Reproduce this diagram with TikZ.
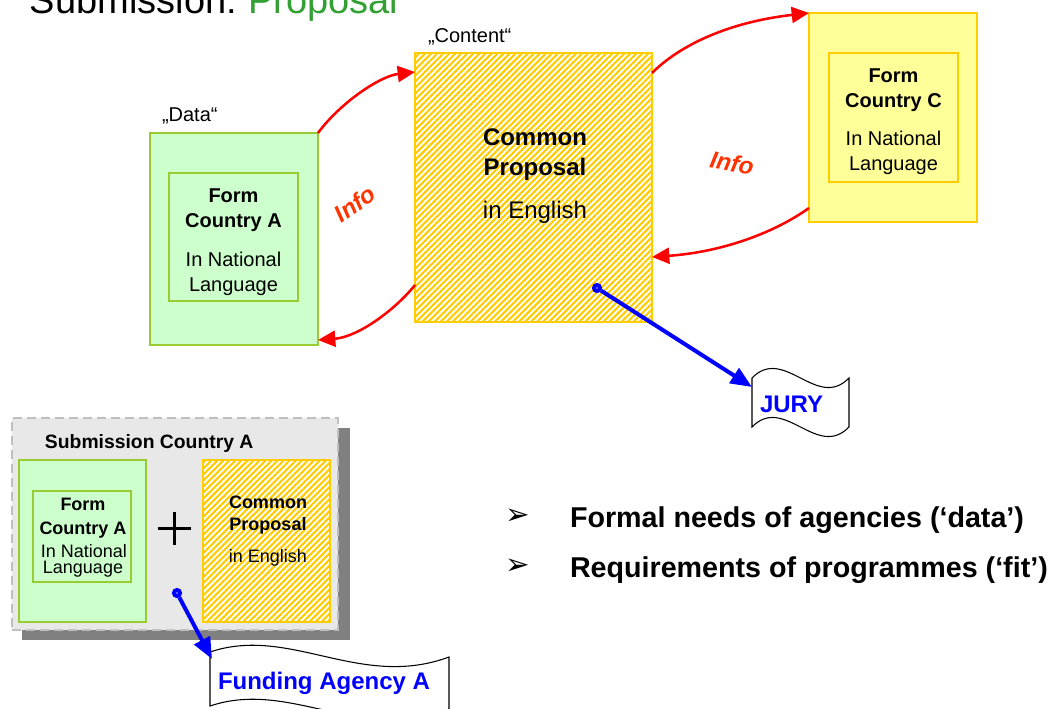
\documentclass[tikz,border=0pt]{standalone}
\usepackage{fontspec}
\setmainfont{Liberation Sans}
\newfontfamily\symfont{DejaVu Sans}
\usetikzlibrary{arrows.meta,patterns.meta}

\definecolor{greenfill}{HTML}{CCFFCC}
\definecolor{greenline}{HTML}{99CC33}
\definecolor{goldline}{HTML}{FFCC00}
\definecolor{paleyellow}{HTML}{FFFF99}
\definecolor{infocol}{HTML}{FF3300}
\definecolor{titlegreen}{HTML}{33A033}
\definecolor{panelgray}{HTML}{E8E8E8}
\definecolor{dashgray}{HTML}{BFBFBF}
\definecolor{shadowgray}{HTML}{808080}
\definecolor{agencyblue}{HTML}{0000FF}

\newcommand\fsz[1]{\fontsize{#1}{#1}\selectfont}

\tikzset{
  txt/.style={inner sep=0pt, outer sep=0pt, anchor=base},
  headM/.style={txt, font=\fsz{15}\bfseries},
  bodyM/.style={txt, font=\fsz{15}},
  headL/.style={txt, font=\fsz{18}\bfseries},
  bodyL/.style={txt, font=\fsz{18}},
  headS/.style={txt, font=\fsz{13.5}\bfseries},
  bodyS/.style={txt, font=\fsz{13.5}},
  quote/.style={txt, anchor=base west, font=\fsz{15}},
  info/.style={inner sep=0pt, text=infocol, font=\fsz{18}\bfseries\itshape},
  box/.style={rectangle, inner sep=0pt, outer sep=0pt, anchor=north west},
  greenbox/.style={box, draw=greenline, fill=greenfill, line width=1.1pt},
  yellowbox/.style={box, draw=goldline, fill=paleyellow, line width=0.9pt},
  hatchbox/.style={box, draw=goldline, line width=1.9pt, preaction={fill=white},
    pattern={Lines[angle=45,distance=3.2pt,line width=1.6pt]}, pattern color=goldline},
  infoarrow/.style={draw=red, line width=1.9pt, -{Triangle[length=13pt,width=12pt]}},
  sendarrow/.style={draw=agencyblue, line width=3pt, -{Triangle[length=16pt,width=13pt]}},
  dot/.style={circle, draw=agencyblue, fill=white, line width=3pt, minimum size=4.5pt, inner sep=0pt},
  flag/.style={draw=black, fill=white, line width=0.8pt},
  flagtext/.style={txt, anchor=base west, text=agencyblue, font=\fsz{18}\bfseries},
  bullet/.style={inner sep=0pt, outer sep=0pt, anchor=center, font=\fsz{22}\symfont},
  point/.style={txt, anchor=base west, font=\fsz{21.5}\bfseries},
}

\begin{document}
\begin{tikzpicture}[x=0.75pt, y=-0.75pt]
\useasboundingbox (0,0) rectangle (1051,708);
\clip (0,0) rectangle (1051,708);

% heading
\node[txt, anchor=base west, font=\fsz{28.5}] (ttl) at (30,13) {Submission:};
\node[txt, anchor=base west, font=\fsz{28.5}, text=titlegreen] (ttlp) at (248,13) {Proposal};

% national form A
\node[quote] (qdata) at (162,121) {„Data“};
\node[greenbox, minimum width=126pt, minimum height=159pt] (data) at (150,133) {};
\node[greenbox, minimum width=96.75pt, minimum height=96pt] (dataIn) at (169,173) {};
\node[headM] (dA1) at (233.5,202) {Form};
\node[headM] (dA2) at (233.5,227) {Country A};
\node[bodyM] (dA3) at (233.5,266) {In National};
\node[bodyM] (dA4) at (233.5,291) {Language};

% common proposal
\node[quote] (qcont) at (428,42) {„Content“};
\node[hatchbox, minimum width=177.75pt, minimum height=201.75pt] (content) at (415,53) {};
\node[headL] (cp1) at (535,145) {Common};
\node[headL] (cp2) at (535,175) {Proposal};
\node[bodyL] (cp3) at (535,218) {in English};

% national form C
\node[yellowbox, minimum width=126pt, minimum height=156.75pt] (formC) at (809,13) {};
\node[yellowbox, minimum width=96.75pt, minimum height=96.75pt] (formCIn) at (829,53) {};
\node[headM] (fc1) at (893.5,82) {Form};
\node[headM] (fc2) at (893.5,107) {Country C};
\node[bodyM] (fc3) at (893.5,145) {In National};
\node[bodyM] (fc4) at (893.5,170) {Language};

% information exchange
\draw[infoarrow] (data.north east) .. controls +(22,-30) and +(-35,4) .. ([yshift=-14.25pt]content.north west);
\draw[infoarrow] ([yshift=27.75pt]content.south west) .. controls +(-20,25) and +(40,-3) .. ([yshift=3.75pt]data.south east);
\draw[infoarrow] ([yshift=-15pt]content.north east) .. controls +(28,-28) and +(-80,9) .. (formC.north west);
\draw[infoarrow] ([yshift=10.5pt]formC.south west) .. controls +(-35,25) and +(70,-5) .. ([yshift=48.75pt]content.south east);
\node[info, rotate=35] (infoL) at (355,204) {Info};
\node[info, rotate=-11] (infoR) at (732,163) {Info};

% jury
\draw[flag] (752,378) .. controls (784,345) and (817,411) .. (849,378)
  -- (849,427) .. controls (817,460) and (784,394) .. (752,427) -- cycle;
\node[flagtext] (jury) at (760,412) {JURY};
\coordinate (juryIn) at (752,387);
\node[dot] (jdot) at (597,288) {};
\draw[sendarrow] (jdot) -- (juryIn);

% national submission
\node[box, fill=shadowgray, minimum width=246pt, minimum height=159pt] (subShadow) at (22,428) {};
\node[box, fill=panelgray, draw=dashgray, line width=2pt, dash pattern=on 7pt off 3.5pt,
      minimum width=244.5pt, minimum height=159pt] (sub) at (12,418) {};
\node[txt, anchor=base west, font=\fsz{14.5}\bfseries] (subTitle) at (45,448) {Submission Country A};
\node[greenbox, minimum width=95.25pt, minimum height=121.5pt] (subForm) at (19,460) {};
\node[greenbox, minimum width=73.5pt, minimum height=68.25pt] (subFormIn) at (33,491) {};
\node[headS] (sf1) at (83,510) {Form};
\node[headS] (sf2) at (83,534) {Country A};
\node[bodyS] (sf3) at (84,557) {In National};
\node[bodyS] (sf4) at (83,573) {Language};
\draw[line width=2pt] (158,528.5) -- (191,528.5) (174.5,512) -- (174.5,545);
\node[hatchbox, line width=2pt, minimum width=95.25pt, minimum height=121.5pt] (subProp) at (203,460) {};
\node[headS] (sp1) at (268,508) {Common};
\node[headS] (sp2) at (268,530) {Proposal};
\node[bodyS] (sp3) at (268,562) {in English};

% funding agency
\draw[flag] (210,652) .. controls (290,625) and (360,690) .. (449,657)
  -- (449,709) .. controls (360,744) and (290,679) .. (210,706) -- cycle;
\node[flagtext] (agency) at (218,689) {Funding Agency A};
\coordinate (agencyIn) at (212,659);
\node[dot] (sdot) at (177,593) {};
\draw[sendarrow] (sdot) -- (agencyIn);

% key points
\node[bullet] (b1) at (518,517) {➢};
\node[point] (p1) at (570,527) {Formal needs of agencies (‘data’)};
\node[bullet] (b2) at (518,567) {➢};
\node[point] (p2) at (570,577) {Requirements of programmes (‘fit’)};
\end{tikzpicture}
\end{document}
